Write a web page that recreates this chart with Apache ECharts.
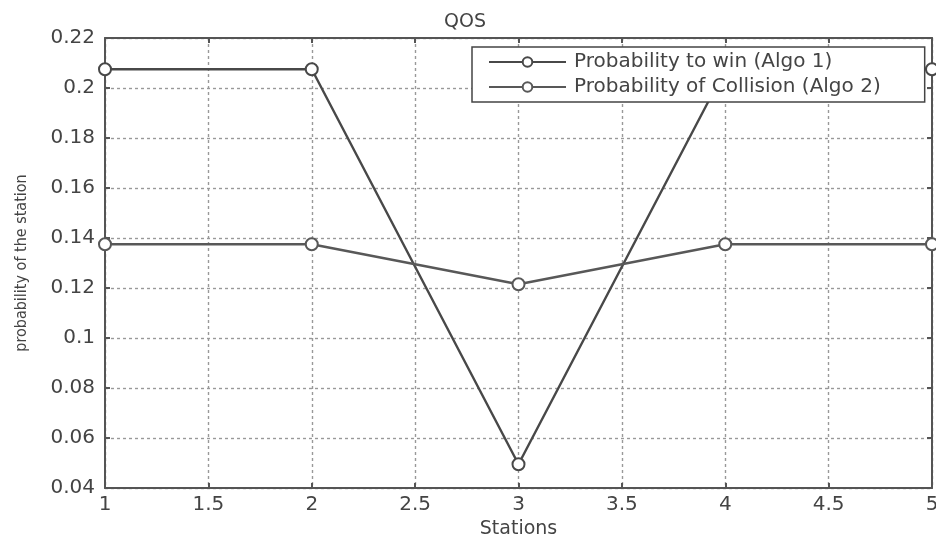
<!DOCTYPE html>
<html>
<head>
<meta charset="utf-8">
<script src="https://cdn.jsdelivr.net/npm/echarts@6/dist/echarts.min.js"></script>
<style>html,body{margin:0;padding:0;background:#fff;}#c{width:936px;height:538px;}</style>
</head>
<body>
<div id="c"></div>
<script>
const stations = [1, 2, 3, 4, 5];
const algo1 = [0.2075, 0.2075, 0.0495, 0.2075, 0.2075];
const algo2 = [0.1375, 0.1375, 0.1215, 0.1375, 0.1375];
const seriesNames = ['Probability to win (Algo 1)', 'Probability of Collision (Algo 2)'];
const titleText = 'QOS';
const xTitle = 'Stations';
const yTitle = 'probability of the station';

const axisColor = '#555';
const textColor = '#444';
const font = 'DejaVu Sans';
const chart = echarts.init(document.getElementById('c'));

function pairs(xs, ys) { return xs.map((x, i) => [x, ys[i]]); }

const gridLine = { show: true, lineStyle: { color: '#999', type: [3, 3], width: 1.4 } };
const tickStyle = { show: true, inside: true, length: 5, lineStyle: { color: axisColor, width: 2 } };
const lineAxis = { show: true, lineStyle: { color: axisColor, width: 2 } };
chart.setOption({
  animation: false,
  backgroundColor: '#fff',
  title: { text: titleText, left: 460, top: 8, textAlign: 'center',
    textStyle: { fontFamily: font, fontSize: 19, fontWeight: 'normal', color: textColor } },
  grid: { left: 105, right: 4, top: 38, bottom: 50, containLabel: false, outerBoundsMode: 'none' },
  legend: {
    left: 472, top: 47, orient: 'vertical',
    itemWidth: 77, itemHeight: 12, itemGap: 5,
    padding: [5, 44, 5, 16],
    borderColor: '#444', borderWidth: 1.5, backgroundColor: '#fff',
    textStyle: { fontFamily: font, fontSize: 20, color: textColor, padding: [0, 0, 0, 3] },
    data: seriesNames
  },
  xAxis: [{
    type: 'value', min: 1, max: 5, interval: 0.5,
    name: xTitle, nameLocation: 'middle', nameGap: 28,
    nameTextStyle: { fontFamily: font, fontSize: 19, color: textColor },
    axisLine: lineAxis, axisTick: tickStyle,
    axisLabel: { fontFamily: font, fontSize: 20, color: textColor, margin: 7 },
    splitLine: gridLine
  }, {
    type: 'value', min: 1, max: 5, interval: 0.5, position: 'top',
    axisLine: lineAxis, axisTick: tickStyle,
    axisLabel: { show: false }, splitLine: { show: false }
  }],
  yAxis: [{
    type: 'value', min: 0.04, max: 0.22, interval: 0.02,
    name: yTitle, nameLocation: 'middle', nameGap: 75,
    nameTextStyle: { fontFamily: 'DejaVu Sans Condensed', fontSize: 16, color: textColor },
    axisLine: lineAxis, axisTick: tickStyle,
    axisLabel: { fontFamily: font, fontSize: 20, color: textColor, margin: 10,
      formatter: v => String(parseFloat(v.toFixed(2))) },
    splitLine: gridLine
  }, {
    type: 'value', min: 0.04, max: 0.22, interval: 0.02, position: 'right',
    axisLine: lineAxis, axisTick: tickStyle,
    axisLabel: { show: false }, splitLine: { show: false }
  }],
  series: [{
    name: seriesNames[0], type: 'line', data: pairs(stations, algo1),
    symbol: 'emptyCircle', symbolSize: 12, clip: false,
    lineStyle: { color: '#484848', width: 2.4 },
    itemStyle: { color: '#484848', borderWidth: 2 }
  }, {
    name: seriesNames[1], type: 'line', data: pairs(stations, algo2),
    symbol: 'emptyCircle', symbolSize: 12, clip: false,
    lineStyle: { color: '#585858', width: 2.4 },
    itemStyle: { color: '#585858', borderWidth: 2 }
  }]
});
</script>
</body>
</html>
